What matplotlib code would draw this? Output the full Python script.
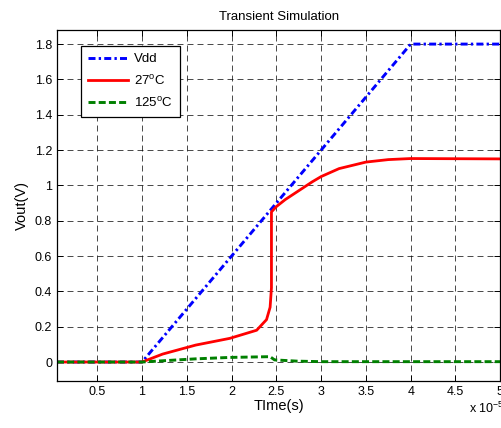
import matplotlib
matplotlib.use("Agg")
import matplotlib.pyplot as plt

plt.rcParams["font.family"] = ["Liberation Sans", "DejaVu Sans"]
plt.rcParams["mathtext.fontset"] = "custom"
plt.rcParams["mathtext.rm"] = "Liberation Sans"

# time in units of 1e-5 s
t_vdd = [0.05, 1.0, 4.0, 5.0]
v_vdd = [0.0, 0.0, 1.8, 1.8]

t_27 = [0.05, 1.0, 1.23, 1.6, 1.98, 2.28, 2.39, 2.43, 2.445, 2.445, 2.5, 2.6, 2.75,
        2.9, 3.0, 3.2, 3.5, 3.75, 4.0, 5.0]
v_27 = [0.0, 0.0, 0.045, 0.096, 0.134, 0.18, 0.24, 0.31, 0.42, 0.85, 0.88, 0.92, 0.97,
        1.02, 1.05, 1.095, 1.132, 1.146, 1.152, 1.15]

t_125 = [0.05, 1.0, 1.23, 1.6, 1.98, 2.4, 2.43, 2.48, 2.73, 3.0, 5.0]
v_125 = [0.0, 0.0, 0.007, 0.018, 0.026, 0.03, 0.03, 0.012, 0.005, 0.002, 0.002]

xticks = [0.5, 1, 1.5, 2, 2.5, 3, 3.5, 4, 4.5, 5]
xticklabels = ["0.5", "1", "1.5", "2", "2.5", "3", "3.5", "4", "4.5", "5"]
yticks = [0, 0.2, 0.4, 0.6, 0.8, 1.0, 1.2, 1.4, 1.6, 1.8]
yticklabels = ["0", "0.2", "0.4", "0.6", "0.8", "1", "1.2", "1.4", "1.6", "1.8"]

fig = plt.figure(figsize=(5.02, 4.28), dpi=100)
ax = fig.add_axes([0.1135, 0.11, 0.883, 0.82])

ax.plot(t_vdd, v_vdd, color="blue", linestyle=(0, (2.4, 1.1, 0.8, 1.1)),
        linewidth=2.1, label="Vdd")
ax.plot(t_27, v_27, color="red", linestyle="-", linewidth=2.0, label="27$^{\\rm o}$C")
ax.plot(t_125, v_125, color="green", linestyle=(0, (2.4, 1.1)), linewidth=2.1,
        label="125$^{\\rm o}$C")

ax.set_xlim(0.05, 5.0)
ax.set_ylim(-0.107, 1.88)
ax.set_xticks(xticks)
ax.set_xticklabels(xticklabels)
ax.set_yticks(yticks)
ax.set_yticklabels(yticklabels)
ax.tick_params(direction="in", top=True, right=True, length=4, width=0.7, labelsize=9)
ax.grid(True, color="black", linestyle=(0, (8.6, 5.8)), linewidth=0.5)
for s in ax.spines.values():
    s.set_linewidth(0.9)

ax.set_title("Transient Simulation", fontsize=9.5, pad=7)
ax.set_xlabel("TIme(s)", fontsize=10.5, labelpad=1)
ax.set_ylabel("Vout(V)", fontsize=10.5, labelpad=4)

leg = ax.legend(loc="upper left", bbox_to_anchor=(0.054, 0.955), borderaxespad=0,
                fontsize=9.5, fancybox=False, framealpha=1, edgecolor="black",
                handlelength=3.0, handletextpad=0.5, borderpad=0.55, labelspacing=0.62)
leg.get_frame().set_linewidth(0.9)

fig.text(0.935, 0.035, "x 10$^{-5}$", fontsize=9)

fig.savefig("out.png", dpi=100)
